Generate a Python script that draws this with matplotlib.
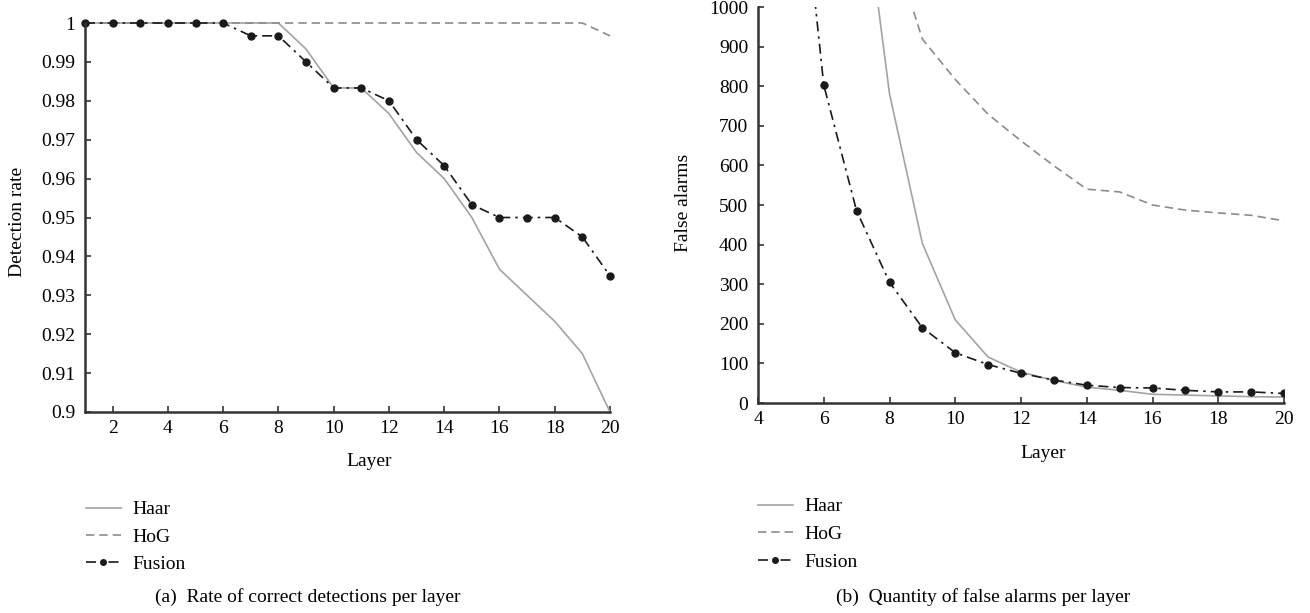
import matplotlib
matplotlib.use("Agg")
import matplotlib.pyplot as plt
from matplotlib.lines import Line2D

plt.rcParams['font.family'] = ['Liberation Serif', 'DejaVu Serif']

# ---- data (a) detection rate ----
layers_a = list(range(1, 21))
haar_rate = [1, 1, 1, 1, 1, 1, 1, 1, 0.9933, 0.9833, 0.9833, 0.9767, 0.9667,
             0.96, 0.95, 0.9367, 0.93, 0.9233, 0.915, 0.90]
hog_rate = [1, 1, 1, 1, 1, 1, 1, 1, 1, 1, 1, 1, 1, 1, 1, 1, 1, 1, 1, 0.9967]
fusion_rate = [1, 1, 1, 1, 1, 1, 0.9967, 0.9967, 0.99, 0.9833, 0.9833, 0.98,
               0.97, 0.9633, 0.9533, 0.95, 0.95, 0.95, 0.945, 0.935]

# ---- data (b) false alarms ----
layers_b = list(range(4, 21))
haar_fa = [3400, 2700, 2000, 1426, 781, 403, 210, 116, 78, 57, 40, 32, 22, 20, 18, 16, 15]
hog_fa = [2400, 1900, 1500, 1320, 1180, 919, 817, 729, 662, 599, 540, 533, 500, 487, 480, 474, 460]
fusion_fa = [2400, 1592, 803, 485, 305, 190, 127, 97, 75, 58, 45, 39, 38, 32, 28, 28, 24]

a_yticks = [0.9, 0.91, 0.92, 0.93, 0.94, 0.95, 0.96, 0.97, 0.98, 0.99, 1.0]
a_yticklabels = ['0.9', '0.91', '0.92', '0.93', '0.94', '0.95', '0.96', '0.97', '0.98', '0.99', '1']
a_xticks = list(range(2, 21, 2))
b_yticks = list(range(0, 1001, 100))
b_xticks = list(range(4, 21, 2))

W, H = 1310, 613
fig = plt.figure(figsize=(W / 100, H / 100), dpi=100)

def frac(x0, y0, x1, y1):
    return [x0 / W, 1 - y1 / H, (x1 - x0) / W, (y1 - y0) / H]

def ftext(x, y, s, **kw):
    fig.text(x / W, 1 - y / H, s, **kw)

haar_style = dict(color='#a3a3a3', lw=1.2, ls='-')
hog_style = dict(color='#8c8c8c', lw=1.2, ls=(0, (5, 3)))
fus_style = dict(color='#1a1a1a', lw=1.2, ls=(0, (6, 3, 1.5, 3)), marker='o', ms=5)

FS = 14
spine_c = '#333333'

def style_axes(ax):
    for s in ['top', 'right']:
        ax.spines[s].set_visible(False)
    for s in ['left', 'bottom']:
        ax.spines[s].set_color(spine_c)
        ax.spines[s].set_linewidth(1.8)
    ax.tick_params(axis='both', direction='in', length=4, width=1.2, color=spine_c,
                   labelsize=FS)
    ax.tick_params(axis='x', pad=6)
    ax.tick_params(axis='y', pad=7)

# ---- panel (a) ----
ax1 = fig.add_axes(frac(85, 23, 610, 412))
ax1.plot(layers_a, haar_rate, label='Haar', **haar_style)
ax1.plot(layers_a, hog_rate, label='HoG', **hog_style)
ax1.plot(layers_a, fusion_rate, label='Fusion', **fus_style)
ax1.set_xlim(1, 20)
ax1.set_ylim(0.9, 1.0)
ax1.set_xticks(a_xticks)
ax1.set_yticks(a_yticks)
ax1.set_yticklabels(a_yticklabels)
style_axes(ax1)
for ln in ax1.lines:
    ln.set_clip_on(False)
ftext(369, 462, 'Layer', fontsize=FS, ha='center', va='center')
ftext(18, 222, 'Detection rate', fontsize=FS, ha='center', va='center', rotation=90)

# ---- panel (b) ----
ax2 = fig.add_axes(frac(758, 7, 1284, 403))
ax2.plot(layers_b, haar_fa, label='Haar', **haar_style)
ax2.plot(layers_b, hog_fa, label='HoG', **hog_style)
ax2.plot(layers_b, fusion_fa, label='Fusion', **fus_style)
ax2.set_xlim(4, 20)
ax2.set_ylim(0, 1000)
ax2.set_xticks(b_xticks)
ax2.set_yticks(b_yticks)
style_axes(ax2)
ftext(1043, 453, 'Layer', fontsize=FS, ha='center', va='center')
ftext(684, 203, 'False alarms', fontsize=FS, ha='center', va='center', rotation=90)

# ---- legends ----
handles = [Line2D([], [], **haar_style), Line2D([], [], **hog_style),
           Line2D([], [], **{**fus_style, 'ms': 4})]
labels = ['Haar', 'HoG', 'Fusion']
fig.legend(handles, labels, loc='upper left', bbox_to_anchor=(80 / W, 1 - 495 / H),
           frameon=False, fontsize=FS, handlelength=1.8, labelspacing=0.5,
           handletextpad=0.6, borderaxespad=0, borderpad=0.3)
fig.legend(handles, labels, loc='upper left', bbox_to_anchor=(752 / W, 1 - 492 / H),
           frameon=False, fontsize=FS, handlelength=1.8, labelspacing=0.52,
           handletextpad=0.6, borderaxespad=0, borderpad=0.3)

ftext(155, 597, '(a)  Rate of correct detections per layer',
      fontsize=FS, va='center', ha='left')
ftext(836, 597, '(b)  Quantity of false alarms per layer',
      fontsize=FS, va='center', ha='left')

fig.savefig('out.png', dpi=100)
